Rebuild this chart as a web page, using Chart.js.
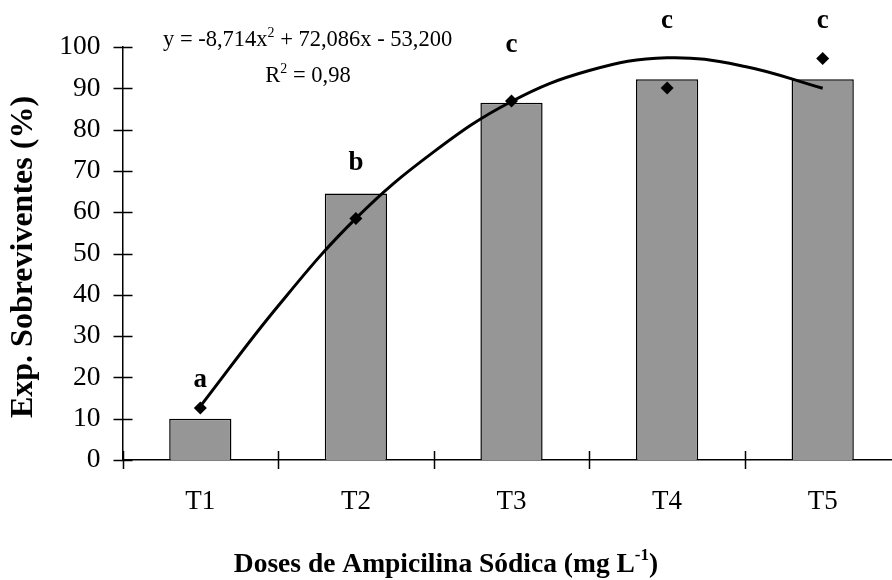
<!DOCTYPE html>
<html>
<head>
<meta charset="utf-8">
<script src="https://cdn.jsdelivr.net/npm/chart.js@4.4.0/dist/chart.umd.min.js"></script>
<style>
  html, body { margin: 0; padding: 0; background: #fff; overflow: hidden; }
  #wrap { width: 907px; height: 580px; }
</style>
</head>
<body>
<!-- the plot runs a little past the right edge of the window, as in the figure -->
<div id="wrap"><canvas id="chart" width="907" height="580"></canvas></div>
<script>
const categories = ['T1', 'T2', 'T3', 'T4', 'T5'];
const barValues = [10, 64.5, 86.5, 92.2, 92.2];
const pointValues = [12.6, 58.5, 86.9, 90.1, 97.2];
const letters = ['a', 'b', 'c', 'c', 'c'];
const letterHeights = [19.4, 71.9, 100.4, 106.3, 106.3];
// trend curve, x = treatment number
const curveX = [1, 1.5, 2, 2.5, 3, 3.5, 4, 4.5, 5];
const curveY = [13, 37.3, 58.5, 74.6, 86.8, 94.3, 97.4, 95.3, 90];

const serif = "'Liberation Serif', 'Times New Roman', serif";

// text with superscript pieces
function richText(ctx, parts, x, y, size, bold, align) {
  const w = parts.map(p => {
    ctx.font = (bold ? 'bold ' : '') + (p.sup ? size * 0.62 : size) + 'px ' + serif;
    return ctx.measureText(p.t).width;
  });
  const total = w.reduce((a, b) => a + b, 0);
  let cx = align === 'center' ? x - total / 2 : x;
  ctx.textAlign = 'left';
  ctx.textBaseline = 'alphabetic';
  parts.forEach((p, i) => {
    ctx.font = (bold ? 'bold ' : '') + (p.sup ? size * 0.62 : size) + 'px ' + serif;
    ctx.fillText(p.t, cx, p.sup ? y - size * 0.42 : y);
    cx += w[i];
  });
}

const extras = {
  id: 'extras',
  afterDraw(chart) {
    const ctx = chart.ctx;
    const xs = chart.scales.x, ys = chart.scales.y;
    const area = chart.chartArea;
    ctx.save();
    ctx.strokeStyle = '#000';
    ctx.lineWidth = 1.5;
    ctx.beginPath();
    ys.ticks.forEach(t => {
      const py = Math.round(ys.getPixelForValue(t.value)) + 0.5;
      ctx.moveTo(area.left - 9, py);
      ctx.lineTo(area.left + 10, py);
    });
    for (let i = 0; i <= categories.length; i++) {
      const px = Math.round(xs.getPixelForValue(i - 0.5)) + 0.5;
      ctx.moveTo(px, area.bottom - 9);
      ctx.lineTo(px, area.bottom + 9);
    }
    ctx.stroke();

    ctx.fillStyle = '#000';
    ctx.font = 'bold 27px ' + serif;
    ctx.textAlign = 'center';
    ctx.textBaseline = 'middle';
    letters.forEach((l, i) => {
      ctx.fillText(l, xs.getPixelForValue(i), ys.getPixelForValue(letterHeights[i]));
    });

    richText(ctx, [{t: 'y = -8,714x'}, {t: '2', sup: true}, {t: ' + 72,086x - 53,200'}], 163, 46, 22.5, false, 'left');
    richText(ctx, [{t: 'R'}, {t: '2', sup: true}, {t: ' = 0,98'}], 308, 82, 22.5, false, 'center');

    richText(ctx, [{t: 'Doses de Ampicilina Sódica (mg L'}, {t: '-1', sup: true}, {t: ')'}], 446, 572, 27.5, true, 'center');

    ctx.translate(24, 257);
    ctx.rotate(-Math.PI / 2);
    ctx.font = 'bold 32px ' + serif;
    ctx.textAlign = 'center';
    ctx.textBaseline = 'middle';
    ctx.fillText('Exp. Sobreviventes (%)', 0, 0);
    ctx.restore();
  }
};

new Chart(document.getElementById('chart'), {
  type: 'bar',
  data: {
    labels: categories,
    datasets: [
      {
        type: 'line',
        xAxisID: 'xl',
        data: pointValues.map((v, i) => ({ x: i + 1, y: v })),
        showLine: false,
        pointStyle: 'rectRot',
        pointRadius: 6.5,
        pointBorderWidth: 0,
        backgroundColor: '#000',
        borderColor: '#000',
        order: 1,
        clip: false
      },
      {
        type: 'line',
        xAxisID: 'xl',
        data: curveX.map((v, i) => ({ x: v, y: curveY[i] })),
        borderColor: '#000',
        borderWidth: 3,
        pointRadius: 0,
        tension: 0.4,
        fill: false,
        order: 2,
        clip: false
      },
      {
        type: 'bar',
        data: barValues,
        backgroundColor: '#969696',
        borderColor: '#000',
        borderWidth: 1.5,
        barPercentage: 0.4,
        categoryPercentage: 1,
        grouped: false,
        order: 3
      }
    ]
  },
  options: {
    responsive: false,
    animation: false,
    devicePixelRatio: 1,
    layout: { padding: { left: 0, right: 0, top: 47, bottom: 0 } },
    plugins: { legend: { display: false }, tooltip: { enabled: false } },
    scales: {
      x: {
        type: 'category',
        offset: true,
        grid: { display: false, drawTicks: false },
        border: { display: true, color: '#000', width: 1.5 },
        ticks: { font: { family: serif, size: 27 }, color: '#000', padding: 26 },
        afterFit(s) { s.height = 120; }
      },
      xl: { type: 'linear', display: false, offset: false, min: 0.5, max: 5.5 },
      y: {
        min: 0,
        max: 100,
        ticks: { stepSize: 10, font: { family: serif, size: 27.5 }, color: '#000', padding: 22 },
        grid: { display: false, drawTicks: false },
        border: { display: true, color: '#000', width: 1.5 },
        afterFit(s) { s.width = 122.5; }
      }
    }
  },
  plugins: [extras]
});
</script>
</body>
</html>
